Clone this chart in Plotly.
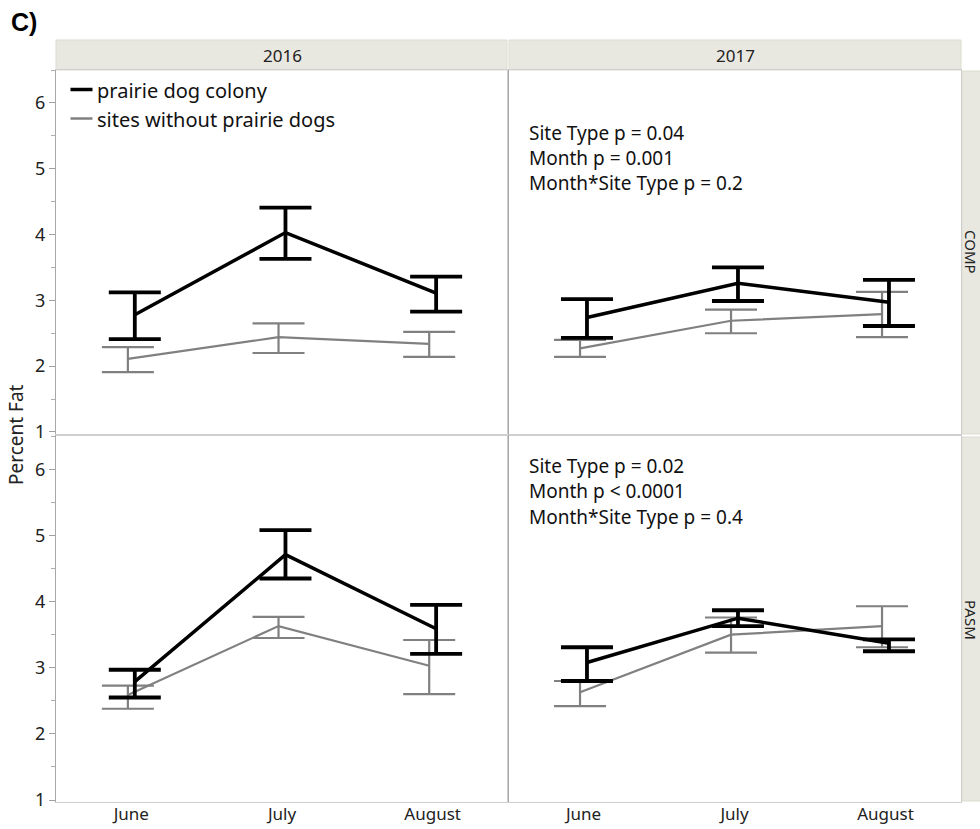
import plotly.graph_objects as go
from plotly.subplots import make_subplots

# ---------------- data ----------------
months = ["June", "July", "August"]
years = ["2016", "2017"]
plants = ["COMP", "PASM"]
y_ticks = [1, 2, 3, 4, 5, 6]

# COMP 2016
comp16_col = [2.78, 4.03, 3.11]
comp16_col_hi = [3.12, 4.41, 3.36]
comp16_col_lo = [2.41, 3.63, 2.83]
comp16_non = [2.11, 2.44, 2.34]
comp16_non_hi = [2.29, 2.65, 2.52]
comp16_non_lo = [1.91, 2.20, 2.14]
# COMP 2017
comp17_col = [2.74, 3.26, 2.97]
comp17_col_hi = [3.02, 3.50, 3.31]
comp17_col_lo = [2.43, 2.99, 2.61]
comp17_non = [2.27, 2.69, 2.79]
comp17_non_hi = [2.40, 2.86, 3.13]
comp17_non_lo = [2.14, 2.50, 2.44]
# PASM 2016
pasm16_col = [2.79, 4.71, 3.59]
pasm16_col_hi = [2.97, 5.08, 3.95]
pasm16_col_lo = [2.55, 4.35, 3.21]
pasm16_non = [2.59, 3.63, 3.03]
pasm16_non_hi = [2.73, 3.77, 3.42]
pasm16_non_lo = [2.38, 3.45, 2.60]
# PASM 2017
pasm17_col = [3.08, 3.75, 3.37]
pasm17_col_hi = [3.31, 3.87, 3.43]
pasm17_col_lo = [2.80, 3.63, 3.25]
pasm17_non = [2.63, 3.50, 3.63]
pasm17_non_hi = [2.80, 3.76, 3.93]
pasm17_non_lo = [2.42, 3.23, 3.31]

legend_labels = ["prairie dog colony", "sites without prairie dogs"]
stats_2017_comp = ["Site Type p = 0.04", "Month p = 0.001", "Month*Site Type p = 0.2"]
stats_2017_pasm = ["Site Type p = 0.02", "Month p < 0.0001", "Month*Site Type p = 0.4"]

panels = [
    (1, 1, comp16_col, comp16_col_hi, comp16_col_lo, comp16_non, comp16_non_hi, comp16_non_lo),
    (1, 2, comp17_col, comp17_col_hi, comp17_col_lo, comp17_non, comp17_non_hi, comp17_non_lo),
    (2, 1, pasm16_col, pasm16_col_hi, pasm16_col_lo, pasm16_non, pasm16_non_hi, pasm16_non_lo),
    (2, 2, pasm17_col, pasm17_col_hi, pasm17_col_lo, pasm17_non, pasm17_non_hi, pasm17_non_lo),
]

# ---------------- styling ----------------
W, H = 980, 829
L, R, T, B = 56, 961, 70, 802
BLACK = "#000000"
GRAY = "#808080"
FONT = "Noto Sans"
TXT = "#222222"
DODGE = 0.023


def px_x(x):
    return (x - L) / (R - L)


def px_y(y):
    return (B - y) / (B - T)


fig = make_subplots(rows=2, cols=2, horizontal_spacing=0, vertical_spacing=0)

for row, col, cm, chi, clo, nm, nhi, nlo in panels:
    xs = list(range(len(months)))
    fig.add_trace(go.Scatter(
        x=[i - DODGE for i in xs], y=nm, mode="lines",
        line=dict(color=GRAY, width=2.2),
        error_y=dict(type="data", symmetric=False,
                     array=[h - m for h, m in zip(nhi, nm)],
                     arrayminus=[m - l for m, l in zip(nm, nlo)],
                     color=GRAY, thickness=2.2, width=26),
        showlegend=False, hoverinfo="skip"), row=row, col=col)
    fig.add_trace(go.Scatter(
        x=[i + DODGE for i in xs], y=cm, mode="lines",
        line=dict(color=BLACK, width=3.5),
        error_y=dict(type="data", symmetric=False,
                     array=[h - m for h, m in zip(chi, cm)],
                     arrayminus=[m - l for m, l in zip(cm, clo)],
                     color=BLACK, thickness=3.8, width=26),
        showlegend=False, hoverinfo="skip"), row=row, col=col)

xdom_split = px_x(508)
ydom_split = px_y(435)
xdoms = {1: [0, xdom_split], 2: [xdom_split, 1]}
ydoms = {1: [ydom_split, 1], 2: [0, ydom_split]}
yranges = {1: [0.954, 6.50], 2: [0.97, 6.52]}

for row in (1, 2):
    for col in (1, 2):
        fig.update_xaxes(
            domain=xdoms[col], range=[-0.5, 2.5], automargin=False,
            tickvals=list(range(len(months))), ticktext=months,
            showticklabels=(row == 2), ticks="", ticklabelstandoff=-3,
            showline=True, mirror=True, linecolor="#cfcfcf", linewidth=1,
            showgrid=False, zeroline=False,
            tickfont=dict(family=FONT, size=17, color=TXT),
            row=row, col=col)
        fig.update_yaxes(
            domain=ydoms[row], range=yranges[row], automargin=False,
            tickvals=y_ticks, showticklabels=(col == 1),
            ticks="outside" if col == 1 else "", ticklen=6, tickcolor="#a0a0a0",
            minor=dict(dtick=0.5, ticks="outside" if col == 1 else "", ticklen=4,
                       tickcolor="#b0b0b0", showgrid=False) if col == 1 else dict(ticks=""),
            showline=True, mirror=True,
            linecolor="#a8a8a8" if col == 1 else "#cfcfcf", linewidth=1,
            showgrid=False, zeroline=False,
            tickfont=dict(family=FONT, size=18, color=TXT),
            row=row, col=col)

shapes = []
# strip headers (top)
STRIP_FILL = "#e9e8e0"
STRIP_LINE = "#dddcd2"
shapes.append(dict(type="rect", xref="paper", yref="paper",
                   x0=px_x(L), x1=px_x(507), y0=px_y(70), y1=px_y(40),
                   fillcolor=STRIP_FILL, line=dict(color=STRIP_LINE, width=1), layer="below"))
shapes.append(dict(type="rect", xref="paper", yref="paper",
                   x0=px_x(509), x1=px_x(R), y0=px_y(70), y1=px_y(40),
                   fillcolor=STRIP_FILL, line=dict(color=STRIP_LINE, width=1), layer="below"))
# strip headers (right)
shapes.append(dict(type="rect", xref="paper", yref="paper",
                   x0=px_x(962), x1=px_x(990), y0=px_y(434), y1=px_y(71),
                   fillcolor=STRIP_FILL, line=dict(color=STRIP_LINE, width=1), layer="below"))
shapes.append(dict(type="rect", xref="paper", yref="paper",
                   x0=px_x(962), x1=px_x(990), y0=px_y(801), y1=px_y(437),
                   fillcolor=STRIP_FILL, line=dict(color=STRIP_LINE, width=1), layer="below"))
# legend line keys
shapes.append(dict(type="line", xref="paper", yref="paper",
                   x0=px_x(70.5), x1=px_x(92.5), y0=px_y(89.5), y1=px_y(89.5),
                   line=dict(color=BLACK, width=3.5)))
shapes.append(dict(type="line", xref="paper", yref="paper",
                   x0=px_x(70.5), x1=px_x(92.5), y0=px_y(118.5), y1=px_y(118.5),
                   line=dict(color=GRAY, width=2.5)))


def note(text, x, y, size, xanchor="center", angle=0, family=FONT, color=TXT):
    return dict(text=text, xref="paper", yref="paper", x=px_x(x), y=px_y(y),
                xanchor=xanchor, yanchor="middle", textangle=angle, showarrow=False,
                font=dict(family=family, size=size, color=color))


ann = []
ann.append(note("2016", 282, 55, 17))
ann.append(note("2017", 735, 55, 17))
ann.append(note("COMP", 971, 252, 15, angle=90))
ann.append(note("PASM", 971, 620, 15, angle=90))
ann.append(note("Percent Fat", 16, 435, 19, angle=-90))
ann.append(note("<b>C)</b>", 9, 22, 25, xanchor="left", family="Liberation Sans", color="#000000"))
for lab, yy in zip(legend_labels, [90, 119]):
    ann.append(note(lab, 95, yy, 20, xanchor="left", color="#111111"))
for lab, yy in zip(stats_2017_comp, [133, 158, 183]):
    ann.append(note(lab, 527, yy, 19, xanchor="left", color="#111111"))
for lab, yy in zip(stats_2017_pasm, [466, 491.5, 517]):
    ann.append(note(lab, 527, yy, 19, xanchor="left", color="#111111"))

fig.update_layout(
    width=W, height=H,
    margin=dict(l=L, r=W - R, t=T, b=H - B),
    paper_bgcolor="white", plot_bgcolor="white",
    shapes=shapes, annotations=ann, showlegend=False,
)

fig.write_html("out.html")
